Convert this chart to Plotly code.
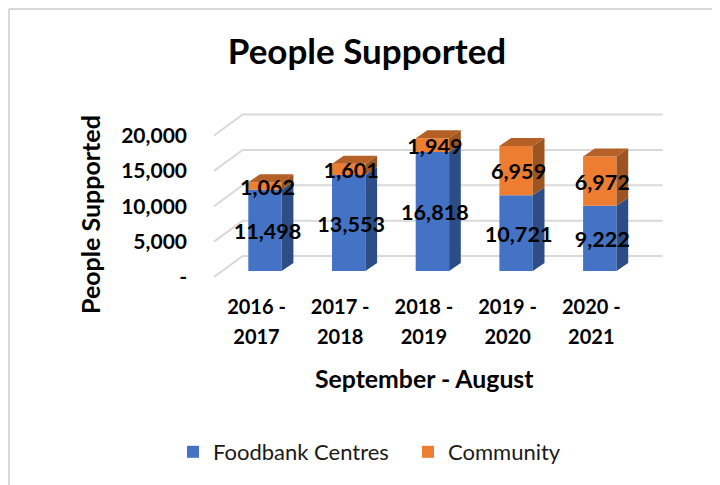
import plotly.graph_objects as go

# Data
first_lines = ["2016 -", "2017 -", "2018 -", "2019 -", "2020 -"]
second_lines = ["2017", "2018", "2019", "2020", "2021"]
foodbank = [11498, 13553, 16818, 10721, 9222]
community = [1062, 1601, 1949, 6959, 6972]
y_ticks = [0, 5000, 10000, 15000, 20000]
y_labels = ["-", "5,000", "10,000", "15,000", "20,000"]

# Layout geometry (pixels in the 720x485 page; the page body adds an 8px margin)
PAGE_W, PAGE_H, BODY = 720, 485, 8
L, R, T, B = 192, 680, 100, 290
X0_PX, X_STEP = 265.0, 83.7
PX_PER_VALUE = 141.5 / 20000
Y0_GRID, Y0_BAR = 277.0, 271.0
pos = list(range(len(foodbank)))


def ux(px):
    return px / X_STEP


def uy(px):
    return px / PX_PER_VALUE


def paper_x(px):
    return (px - L) / (R - L)


def paper_y(px):
    return (B - px) / (B - T)


x_range = [(L - X0_PX) / X_STEP, (R - X0_PX) / X_STEP]
y_range = [(Y0_GRID - B) / PX_PER_VALUE, (Y0_GRID - T) / PX_PER_VALUE]
y2_range = [(Y0_BAR - B) / PX_PER_VALUE, (Y0_BAR - T) / PX_PER_VALUE]

BAR_W = ux(33.4)
DX, DY = ux(11.7), uy(8)
GDX, GDY = ux(28.7), uy(21)
GX0, GX1 = (214 - X0_PX) / X_STEP, (662.7 - X0_PX) / X_STEP
tick_pos = [p - ux(8.5) for p in pos]

BLUE, BLUE_SIDE = "#4472C4", "#2D4D86"
ORANGE, ORANGE_SIDE, ORANGE_TOP = "#ED7D31", "#9C5420", "#B46026"
GRID = "#D9D9D9"

fig = go.Figure()

# Floor/back gridlines
gx, gy = [], []
for v in y_ticks:
    gx += [GX0, GX0 + GDX, GX1, None]
    gy += [v, v + GDY, v + GDY, None]
fig.add_trace(go.Scatter(x=gx, y=gy, mode="lines", line=dict(color=GRID, width=2),
                         showlegend=False, hoverinfo="skip", xaxis="x", yaxis="y"))

# Front faces
fig.add_trace(go.Bar(x=pos, y=foodbank, name="Foodbank Centres", width=BAR_W,
                     marker=dict(color=BLUE, line=dict(width=0)), xaxis="x", yaxis="y2"))
fig.add_trace(go.Bar(x=pos, y=community, base=foodbank, name="Community", width=BAR_W,
                     marker=dict(color=ORANGE, line=dict(width=0)), xaxis="x", yaxis="y2"))


def side(lows, highs):
    xs, ys = [], []
    for p, lo, hi in zip(pos, lows, highs):
        e = p + BAR_W / 2
        xs += [e, e + DX, e + DX, e, e, None]
        ys += [lo, lo + DY, hi + DY, hi, lo, None]
    return xs, ys


totals = [a + b for a, b in zip(foodbank, community)]
sx, sy = side([0] * len(pos), foodbank)
fig.add_trace(go.Scatter(x=sx, y=sy, mode="lines", fill="toself", fillcolor=BLUE_SIDE,
                         line=dict(width=0), showlegend=False, hoverinfo="skip",
                         xaxis="x", yaxis="y2"))
sx, sy = side(foodbank, totals)
fig.add_trace(go.Scatter(x=sx, y=sy, mode="lines", fill="toself", fillcolor=ORANGE_SIDE,
                         line=dict(width=0), showlegend=False, hoverinfo="skip",
                         xaxis="x", yaxis="y2"))
tx, ty = [], []
for p, t in zip(pos, totals):
    a, b = p - BAR_W / 2, p + BAR_W / 2
    tx += [a, a + DX, b + DX, b, a, None]
    ty += [t, t + DY, t + DY, t, t, None]
fig.add_trace(go.Scatter(x=tx, y=ty, mode="lines", fill="toself", fillcolor=ORANGE_TOP,
                         line=dict(width=0), showlegend=False, hoverinfo="skip",
                         xaxis="x", yaxis="y2"))

# Value labels
LABEL_DOWN = uy(3.5)
lab_x = [p + ux(2.5) for p in pos] * 2
lab_y = [v / 2 - LABEL_DOWN for v in foodbank] + [f + c / 2 - LABEL_DOWN for f, c in zip(foodbank, community)]
lab_t = [f"{v:,}" for v in foodbank + community]
fig.add_trace(go.Scatter(x=lab_x, y=lab_y, text=lab_t, mode="text", textposition="middle center",
                         textfont=dict(family="Lato", size=21.6, color="#000000", weight="bold"),
                         showlegend=False, hoverinfo="skip", cliponaxis=False,
                         xaxis="x2", yaxis="y2"))

tick_font = dict(family="Lato", size=20, color="#000000", weight="bold")
y_tick_font = dict(family="Lato", size=21, color="#000000", weight="bold")
fig.update_layout(
    width=PAGE_W - BODY, height=PAGE_H - BODY, autosize=False,
    margin=dict(l=L - BODY, r=PAGE_W - R, t=T - BODY, b=PAGE_H - B, pad=0),
    paper_bgcolor="#FFFFFF", plot_bgcolor="rgba(0,0,0,0)",
    barmode="overlay",
    title=dict(text="<b>People Supported</b>", x=(367 - BODY) / (PAGE_W - BODY),
               y=1 - (52 - BODY) / (PAGE_H - BODY), xanchor="center", yanchor="middle",
               font=dict(family="Lato", size=35, color="#000000")),
    xaxis=dict(range=x_range, tickmode="array", tickvals=tick_pos, ticktext=first_lines, showgrid=False,
               zeroline=False, showline=False, ticks="", tickfont=tick_font, ticklabelstandoff=3,
               anchor="y"),
    xaxis2=dict(range=x_range, overlaying="x", anchor="y", side="bottom", tickmode="array", tickvals=tick_pos,
                ticktext=second_lines, showgrid=False, zeroline=False, showline=False, ticks="",
                tickfont=tick_font, ticklabelstandoff=33),
    yaxis=dict(range=y_range, tickmode="array", tickvals=y_ticks, ticktext=y_labels, showgrid=False,
               zeroline=False, showline=False, ticks="", tickfont=y_tick_font, ticklabelstandoff=4,
               anchor="x"),
    yaxis2=dict(range=y2_range, overlaying="y", anchor="x", visible=False),
    legend=dict(orientation="h", x=paper_x(173), y=paper_y(452), xanchor="left", yanchor="middle",
                font=dict(family="Lato", size=22, color="#1A1A1A"), bgcolor="rgba(0,0,0,0)",
                entrywidth=190, entrywidthmode="pixels",
                itemclick=False, itemdoubleclick=False, traceorder="normal"),
    annotations=[
        dict(text="<b>People Supported</b>", xref="paper", yref="paper", x=paper_x(90),
             y=paper_y(215), textangle=-90, showarrow=False, xanchor="center", yanchor="middle",
             font=dict(family="Lato", size=25, color="#000000")),
        dict(text="<b>September - August</b>", xref="paper", yref="paper", x=paper_x(424),
             y=paper_y(378), showarrow=False, xanchor="center", yanchor="middle",
             font=dict(family="Lato", size=24.8, color="#000000")),
    ],
    shapes=[
        dict(type="line", xref="paper", yref="paper", x0=paper_x(9), x1=paper_x(9),
             y0=paper_y(9), y1=paper_y(PAGE_H), line=dict(color=GRID, width=2), layer="below"),
        dict(type="line", xref="paper", yref="paper", x0=paper_x(9), x1=paper_x(PAGE_W),
             y0=paper_y(9), y1=paper_y(9), line=dict(color=GRID, width=2), layer="below"),
    ],
)
fig.write_html("out.html")
